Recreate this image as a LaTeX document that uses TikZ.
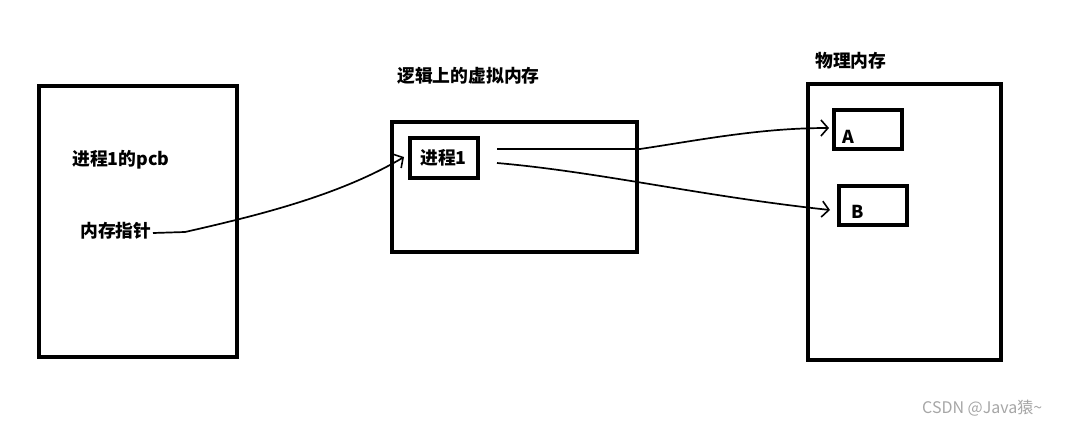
\documentclass[tikz,border=0pt]{standalone}
\usepackage{fontspec}
\newfontfamily\cjk{Noto Sans CJK SC}
\usetikzlibrary{arrows.meta}
\begin{document}
\begin{tikzpicture}[x=1pt,y=-1pt,
  bigbox/.style={draw, line width=4pt, inner sep=0pt},
  smallbox/.style={draw, line width=3.5pt, inner sep=0pt},
  lbl/.style={font=\cjk\bfseries\fontsize{17.8}{20}\selectfont, inner sep=0pt},
  conn/.style={line width=1.7pt, -{Straight Barb[length=7pt,width=16pt,line width=1.6pt]}}]
\useasboundingbox (0,0) rectangle (1065,426);
% boxes
\node[bigbox, minimum width=198pt, minimum height=271pt] (pcb) at (138,221.5) {};
\node[bigbox, minimum width=245pt, minimum height=130pt] (vm) at (514.5,187) {};
\node[smallbox, minimum width=68pt, minimum height=40pt] (p1) at (444,158) {};
\node[bigbox, minimum width=193pt, minimum height=276pt] (pm) at (904.5,222) {};
\node[smallbox, minimum width=68pt, minimum height=39pt] (A) at (868,129.5) {};
\node[smallbox, minimum width=68pt, minimum height=39pt] (B) at (873,205.5) {};
% labels
\node[lbl, anchor=west] (pcbt) at (72,160) {进程1的pcb};
\node[lbl, anchor=west] (ptr) at (80,231) {内存指针};
\node[lbl, anchor=west] (vmt) at (397,76) {逻辑上的虚拟内存};
\node[lbl, anchor=west] (pmt) at (815,61) {物理内存};
\node[lbl, anchor=west] (p1t) at (420,158) {进程1};
\node[lbl, anchor=west] (At) at (842,137) {A};
\node[lbl, anchor=west] (Bt) at (851,212) {B};
\node[font=\cjk\fontsize{16}{18}\selectfont, text=black!35, anchor=west, inner sep=0pt] (wm) at (922,408) {CSDN @Java猿\textasciitilde};
% connector anchors
\coordinate (c1s) at (153,233);
\coordinate (c1e) at (404,157);
\coordinate (c2s) at (497,149);
\coordinate (c2m) at (640,149);
\coordinate (c2e) at (829,128);
\coordinate (c3s) at (497,163);
\coordinate (c3e) at (830,210);
% connectors
\draw[conn] (c1s) -- (185,232) .. controls (260,215) and (340,195) .. (c1e);
\draw[conn] (c2s) -- (c2m) .. controls (700,140) and (760,128) .. (c2e);
\draw[conn] (c3s) .. controls (600,172) and (700,196) .. (c3e);
\end{tikzpicture}
\end{document}
